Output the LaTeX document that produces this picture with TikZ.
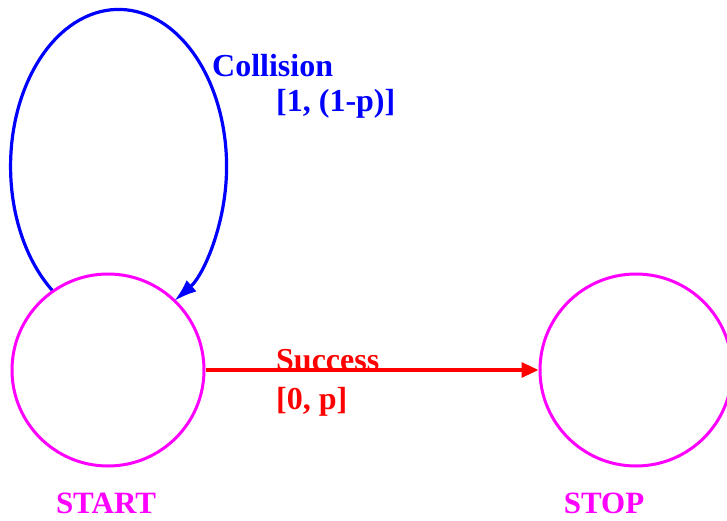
\documentclass[tikz,border=0pt]{standalone}
\usepackage{fontspec}
\setmainfont{Liberation Serif}
\usetikzlibrary{arrows.meta}
\definecolor{mag}{RGB}{255,0,255}
\definecolor{blu}{RGB}{0,0,255}
\definecolor{rd}{RGB}{255,0,0}
\begin{document}
\begin{tikzpicture}[x=1pt,y=1pt,
  state/.style={circle,draw=mag,line width=3pt,minimum size=192pt,inner sep=0pt},
  lbl/.style={font=\fontsize{32}{32}\selectfont\bfseries,anchor=base west,inner sep=0pt},
  statelbl/.style={font=\fontsize{31}{31}\selectfont\bfseries,text=mag,anchor=base,inner sep=0pt,text depth=0pt}]
\useasboundingbox (0,0) rectangle (727,-521);
\node[state] (start) at (108,-370) {};
\node[state] (stop) at (636,-370) {};
\draw[blu,line width=3.2pt,-{Latex[length=23pt,width=15pt]}]
  (start.125) arc[start angle=232,end angle=-59,x radius=108,y radius=157];
\draw[rd,line width=3.2pt,-{Triangle[length=17pt,width=15pt]}] (start.east) -- (stop.west);
\node[lbl,text=blu] (coll) at (212,-77) {Collision};
\node[lbl,text=blu] (collp) at (276,-112) {[1, (1-p)]};
\node[lbl,text=rd] (succ) at (276,-370) {Success};
\node[lbl,text=rd] (succp) at (276,-409) {[0, p]};
\node[statelbl] (startl) at (106,-513) {START};
\node[statelbl] (stopl) at (604,-513) {STOP};
\end{tikzpicture}
\end{document}
